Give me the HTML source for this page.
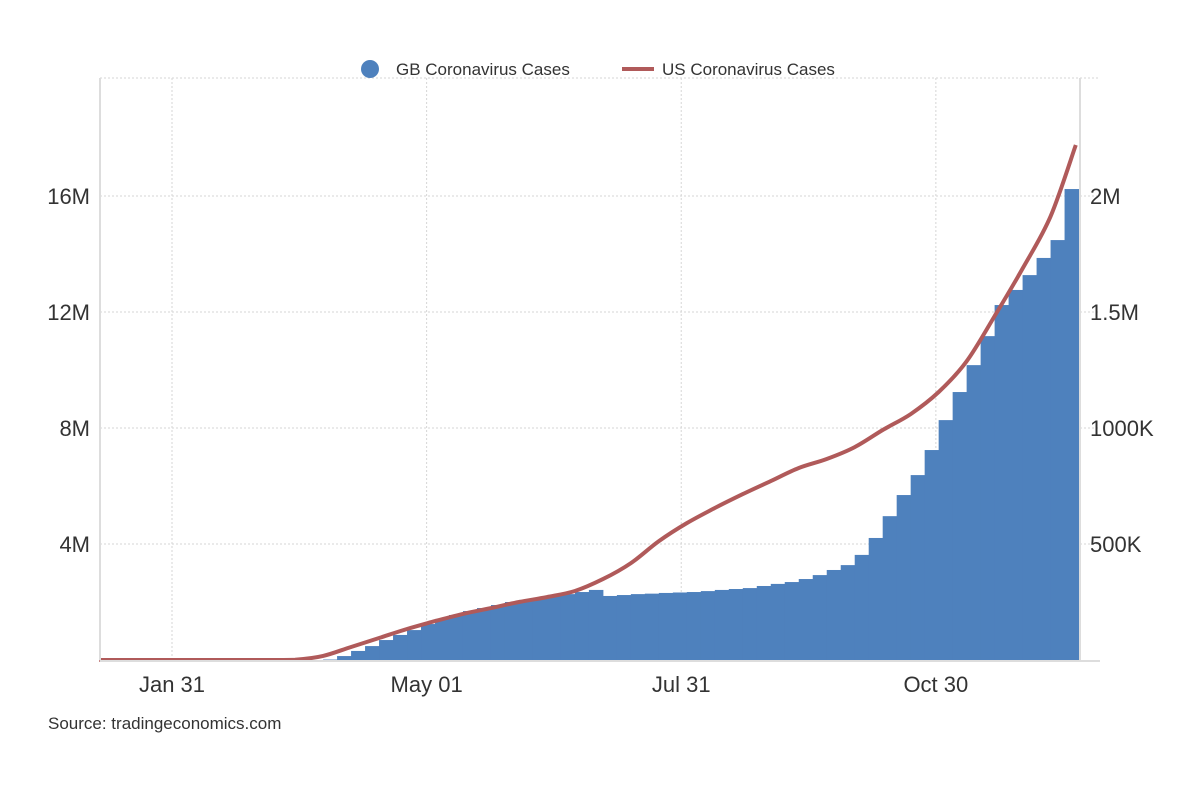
<!DOCTYPE html>
<html><head><meta charset="utf-8"><style>
body{margin:0;background:#fff;font-family:"Liberation Sans",sans-serif}
svg text{font-family:"Liberation Sans",sans-serif}
</style></head><body>
<svg id="chart" width="1200" height="800" xmlns="http://www.w3.org/2000/svg">
<g id="grid"></g>
<g id="bars"></g>
<path id="usline" fill="none" stroke="#b05a5a" stroke-width="4" stroke-linejoin="round"/>
<g id="axes"></g>
<g>
<g><circle cx="370" cy="69" r="9" fill="#4e81bd"/><text x="396" y="75" font-size="17" fill="#333">GB Coronavirus Cases</text></g>
<g><line x1="622" y1="69" x2="654" y2="69" stroke="#b05a5a" stroke-width="4"/><text x="662" y="75" font-size="17" fill="#333">US Coronavirus Cases</text></g>
</g>
<text x="48" y="729" font-size="17" fill="#333">Source: tradingeconomics.com</text>
</svg>
<script>
const usDays=[5,25,45,65,75,85,95,105,115,125,135,145,155,165,175,185,195,205,215,225,235,245,255,265,275,285,295,305,315,325,335,345,354];
const usValuesM=[0,0,0,0,0.01,0.14,0.45,0.76,1.07,1.34,1.59,1.79,2.0,2.17,2.38,2.79,3.34,4.1,4.72,5.24,5.72,6.17,6.62,6.93,7.34,7.93,8.48,9.24,10.3,11.86,13.5,15.3,17.76];
const gbStartDay=85, gbStep=5;
const gbValuesK=[2,17,39,60,86,108,129,155,177,194,211,224,237,250,259,267,276,284,293,302,276,280,284,286,289,291,293,297,302,306,310,319,328,336,349,366,388,409,453,526,620,711,797,905,1034,1155,1271,1396,1530,1595,1659,1733,1810,2030];
const leftTicks=[4,8,12,16], leftLabels=["4M","8M","12M","16M"];
const rightTicks=[500,1000,1500,2000], rightLabels=["500K","1000K","1.5M","2M"];
const xTickDays=[31,122,213,304], xTickLabels=["Jan 31","May 01","Jul 31","Oct 30"];

const NS="http://www.w3.org/2000/svg";
const X0=100,X1=1080,Y0=660,YT=78;
const x=d=>172+(d-31)*2.798;
const yL=v=>Y0-v*29;
const yR=v=>Y0-v*116/500;
function mk(tag,attrs,parent,txt){const e=document.createElementNS(NS,tag);for(const k in attrs)e.setAttribute(k,attrs[k]);if(txt!==undefined)e.textContent=txt;parent.appendChild(e);return e;}
const grid=document.getElementById('grid'),axes=document.getElementById('axes'),bars=document.getElementById('bars');
[YT].concat(leftTicks.map(yL)).forEach(yy=>{const l=mk('line',{x1:X0,x2:X1+20,y1:yy,y2:yy,stroke:'#d6d6d6','stroke-dasharray':'2,2'},grid);

});
xTickDays.forEach((d,i)=>{const l=mk('line',{x1:x(d),x2:x(d),y1:YT,y2:Y0,stroke:'#d6d6d6','stroke-dasharray':'2,2'},grid);


const t=mk('text',{x:x(d),y:692,'font-size':22,fill:'#333','text-anchor':'middle'},axes,xTickLabels[i]);

});
leftTicks.forEach((v,i)=>{const t=mk('text',{x:90,y:yL(v)+8,'font-size':22,fill:'#333','text-anchor':'end'},axes,leftLabels[i]);

});
rightTicks.forEach((v,i)=>{const t=mk('text',{x:1090,y:yR(v)+8,'font-size':22,fill:'#333'},axes,rightLabels[i]);

});
gbValuesK.forEach((v,i)=>{const d=gbStartDay+i*gbStep;const xa=x(d),xb=Math.min(x(d+gbStep),X1);
const r=mk('rect',{x:xa,y:yR(v),width:Math.max(0,xb-xa+0.5),height:Y0-yR(v),fill:'#4e81bd'},bars);

});
// smooth line (Catmull-Rom)
const pts=usDays.map((d,i)=>[x(d),yL(usValuesM[i])]);
let p='M'+pts[0][0].toFixed(1)+','+pts[0][1].toFixed(1);
for(let i=0;i<pts.length-1;i++){const p0=pts[Math.max(0,i-1)],p1=pts[i],p2=pts[i+1],p3=pts[Math.min(pts.length-1,i+2)];
const c1=[p1[0]+(p2[0]-p0[0])/6,p1[1]+(p2[1]-p0[1])/6],c2=[p2[0]-(p3[0]-p1[0])/6,p2[1]-(p3[1]-p1[1])/6];
p+='C'+c1[0].toFixed(1)+','+Math.min(Y0,c1[1]).toFixed(1)+' '+c2[0].toFixed(1)+','+Math.min(Y0,c2[1]).toFixed(1)+' '+p2[0].toFixed(1)+','+p2[1].toFixed(1);}
document.getElementById('usline').setAttribute('d',p);
[['line',{x1:X0,x2:X0,y1:YT,y2:Y0,stroke:'#ddd','stroke-width':2}],['line',{x1:X1,x2:X1,y1:YT,y2:Y0,stroke:'#ddd','stroke-width':2}],['line',{x1:X0,x2:X1+20,y1:Y0+1,y2:Y0+1,stroke:'#ddd','stroke-width':2}]].forEach(a=>{const l=mk(a[0],a[1],axes);

});
</script>
</body></html>
